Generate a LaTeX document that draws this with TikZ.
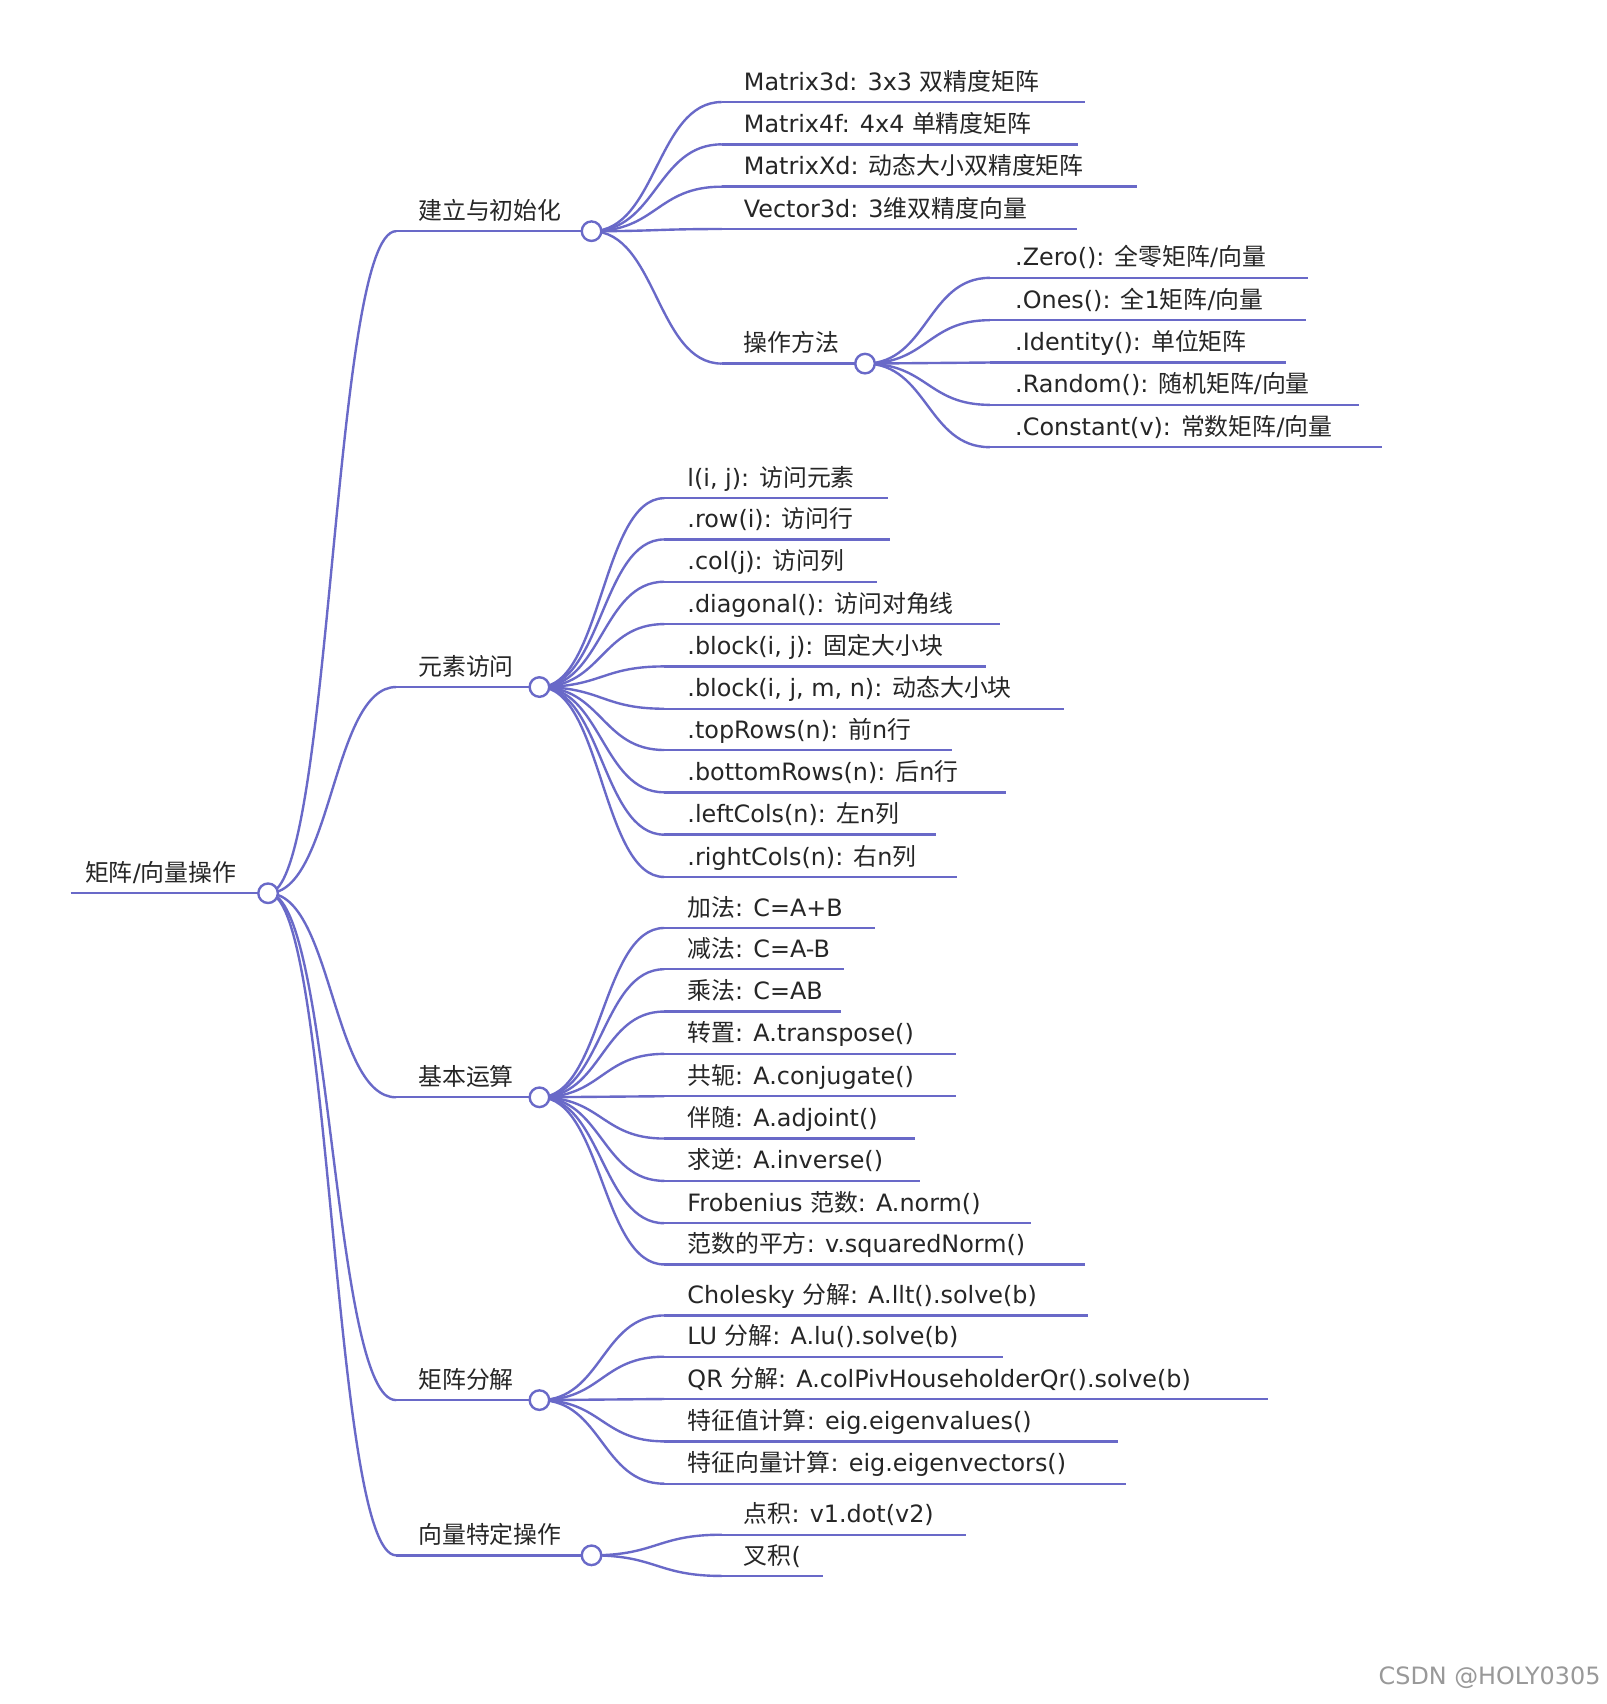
\documentclass[tikz,border=0pt]{standalone}
\usepackage{fontspec}
\setmainfont{DejaVu Sans}
\newfontfamily\cjk{Noto Sans CJK SC}
\newcommand\z[1]{{\cjk #1}}
\usetikzlibrary{calc}
\definecolor{br}{RGB}{105,105,200}
\tikzset{brl/.style={draw=br,line width=1.1pt},
 lbl/.style={anchor=base west,inner sep=0pt,font=\fontsize{11}{13}\selectfont,text=black!85},
 knob/.style={circle,draw=br,line width=1.1pt,fill=white,minimum size=9pt,inner sep=0pt}}
% #1 name, #2 parent, #3 line start x, #4 text x, #5 line end x, #6 y, #7 text
\newcommand\leaf[7]{%
 \coordinate (#1s) at (#3,#6); \coordinate (#1e) at (#5,#6);
 \node[lbl] (#1) at (#4,#6-11) {#7};
 \draw[brl] (#1s) -- (#1e);
 \coordinate (#1m) at ($(#2)!0.5!(#1s)$);
 \draw[brl] (#2) .. controls (#1m |- #2) and (#1m |- #1s) .. (#1s);}
\begin{document}
\begin{tikzpicture}[x=0.5pt,y=-0.5pt]
\useasboundingbox[fill=white] (0,0) rectangle (1480,1570);
\coordinate (R) at (247,823);
\coordinate (A) at (545,213);
\coordinate (B) at (497,633);
\coordinate (C) at (497,1011);
\coordinate (D) at (497,1290);
\coordinate (E) at (545,1433);
\coordinate (A5) at (797,335);
\node[lbl] (root) at (78,812) {\z{矩阵}/\z{向量操作}};
\draw[brl] (65,823) -- (R);
\leaf{a}{R}{365}{385}{545}{213}{\z{建立与初始化}}
\leaf{b}{R}{365}{385}{497}{633}{\z{元素访问}}
\leaf{c}{R}{365}{385}{497}{1011}{\z{基本运算}}
\leaf{d}{R}{365}{385}{497}{1290}{\z{矩阵分解}}
\leaf{e}{R}{365}{385}{545}{1433}{\z{向量特定操作}}
% A
\leaf{a1}{A}{665}{685}{1000}{94}{Matrix3d: 3x3 \z{双精度矩阵}}
\leaf{a2}{A}{665}{685}{993}{133}{Matrix4f: 4x4 \z{单精度矩阵}}
\leaf{a3}{A}{665}{685}{1048}{172}{MatrixXd: \z{动态大小双精度矩阵}}
\leaf{a4}{A}{665}{685}{992}{211}{Vector3d: 3\z{维双精度向量}}
\leaf{a5}{A}{665}{685}{797}{335}{\z{操作方法}}
\leaf{f1}{A5}{912}{935}{1205}{256}{.Zero(): \z{全零矩阵}/\z{向量}}
\leaf{f2}{A5}{912}{935}{1203}{295}{.Ones(): \z{全}1\z{矩阵}/\z{向量}}
\leaf{f3}{A5}{912}{935}{1185}{334}{.Identity(): \z{单位矩阵}}
\leaf{f4}{A5}{912}{935}{1252}{373}{.Random(): \z{随机矩阵}/\z{向量}}
\leaf{f5}{A5}{912}{935}{1273}{412}{.Constant(v): \z{常数矩阵}/\z{向量}}
% B
\leaf{b1}{B}{612}{633}{818}{459}{l(i, j): \z{访问元素}}
\leaf{b2}{B}{612}{633}{820}{497}{.row(i): \z{访问行}}
\leaf{b3}{B}{612}{633}{808}{536}{.col(j): \z{访问列}}
\leaf{b4}{B}{612}{633}{921}{575}{.diagonal(): \z{访问对角线}}
\leaf{b5}{B}{612}{633}{908}{614}{.block(i, j): \z{固定大小块}}
\leaf{b6}{B}{612}{633}{980}{653}{.block(i, j, m, n): \z{动态大小块}}
\leaf{b7}{B}{612}{633}{877}{691}{.topRows(n): \z{前}n\z{行}}
\leaf{b8}{B}{612}{633}{927}{730}{.bottomRows(n): \z{后}n\z{行}}
\leaf{b9}{B}{612}{633}{862}{769}{.leftCols(n): \z{左}n\z{列}}
\leaf{b10}{B}{612}{633}{882}{808}{.rightCols(n): \z{右}n\z{列}}
% C
\leaf{c1}{C}{612}{633}{806}{855}{\z{加法}: C=A+B}
\leaf{c2}{C}{612}{633}{778}{893}{\z{减法}: C=A-B}
\leaf{c3}{C}{612}{633}{775}{932}{\z{乘法}: C=AB}
\leaf{c4}{C}{612}{633}{881}{971}{\z{转置}: A.transpose()}
\leaf{c5}{C}{612}{633}{881}{1010}{\z{共轭}: A.conjugate()}
\leaf{c6}{C}{612}{633}{843}{1049}{\z{伴随}: A.adjoint()}
\leaf{c7}{C}{612}{633}{848}{1088}{\z{求逆}: A.inverse()}
\leaf{c8}{C}{612}{633}{950}{1127}{Frobenius \z{范数}: A.norm()}
\leaf{c9}{C}{612}{633}{1000}{1165}{\z{范数的平方}: v.squaredNorm()}
% D
\leaf{d1}{D}{612}{633}{1002}{1212}{Cholesky \z{分解}: A.llt().solve(b)}
\leaf{d2}{D}{612}{633}{924}{1250}{LU \z{分解}: A.lu().solve(b)}
\leaf{d3}{D}{612}{633}{1168}{1289}{QR \z{分解}: A.colPivHouseholderQr().solve(b)}
\leaf{d4}{D}{612}{633}{1030}{1328}{\z{特征值计算}: eig.eigenvalues()}
\leaf{d5}{D}{612}{633}{1037}{1367}{\z{特征向量计算}: eig.eigenvectors()}
% E
\leaf{e1}{E}{665}{685}{890}{1414}{\z{点积}: v1.dot(v2)}
\leaf{e2}{E}{665}{685}{758}{1452}{\z{叉积}(}
\foreach \p in {R,A,B,C,D,E,A5} \node[knob] at (\p) {};
\node[anchor=base east,inner sep=0pt,font=\fontsize{11}{13}\selectfont,text=black!40] (wm) at (1475,1552) {CSDN @HOLY0305};
\end{tikzpicture}
\end{document}
